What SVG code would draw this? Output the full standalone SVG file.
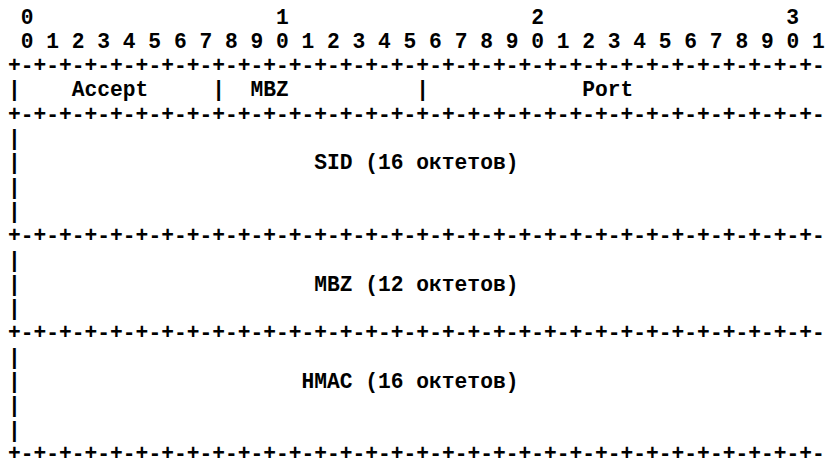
<svg xmlns="http://www.w3.org/2000/svg" width="832" height="459" viewBox="0 0 832 459">
<style>
text{font-family:"Liberation Mono","Courier New",monospace;font-weight:bold;font-size:21.27px;fill:#000}
</style>
<rect x="0" y="0" width="832" height="459" fill="#fff"/>
<g id="bit-ruler">
<text x="20.76" y="23.5">0</text>
<text x="275.96" y="23.5">1</text>
<text x="531.16" y="23.5">2</text>
<text x="786.36" y="23.5">3</text>
<text x="20.76" y="47.8">0 1 2 3 4 5 6 7 8 9 0 1 2 3 4 5 6 7 8 9 0 1 2 3 4 5 6 7 8 9 0 1</text>
</g>
<g id="borders">
<text x="8" y="72.1">+-+-+-+-+-+-+-+-+-+-+-+-+-+-+-+-+-+-+-+-+-+-+-+-+-+-+-+-+-+-+-+-</text>
<text x="8" y="120.7">+-+-+-+-+-+-+-+-+-+-+-+-+-+-+-+-+-+-+-+-+-+-+-+-+-+-+-+-+-+-+-+-</text>
<text x="8" y="242.2">+-+-+-+-+-+-+-+-+-+-+-+-+-+-+-+-+-+-+-+-+-+-+-+-+-+-+-+-+-+-+-+-</text>
<text x="8" y="339.4">+-+-+-+-+-+-+-+-+-+-+-+-+-+-+-+-+-+-+-+-+-+-+-+-+-+-+-+-+-+-+-+-</text>
<text x="8" y="459.9">+-+-+-+-+-+-+-+-+-+-+-+-+-+-+-+-+-+-+-+-+-+-+-+-+-+-+-+-+-+-+-+-</text>
</g>
<g id="row-accept-mbz-port">
<text x="8" y="96.4">|</text>
<text x="71.8" y="96.4">Accept</text>
<text x="212.16" y="96.4">|</text>
<text x="250.44" y="96.4">MBZ</text>
<text x="416.32" y="96.4">|</text>
<text x="582.2" y="96.4">Port</text>
</g>
<g id="field-sid">
<text x="8" y="145">|</text>
<text x="8" y="169.3">|</text>
<text x="314.24" y="169.3">SID (16 октетов)</text>
<text x="8" y="193.6">|</text>
<text x="8" y="217.9">|</text>
</g>
<g id="field-mbz">
<text x="8" y="266.5">|</text>
<text x="8" y="290.8">|</text>
<text x="314.24" y="290.8">MBZ (12 октетов)</text>
<text x="8" y="315.1">|</text>
</g>
<g id="field-hmac">
<text x="8" y="363.7">|</text>
<text x="8" y="388">|</text>
<text x="301.48" y="388">HMAC (16 октетов)</text>
<text x="8" y="412.3">|</text>
<text x="8" y="436.6">|</text>
</g>
</svg>
